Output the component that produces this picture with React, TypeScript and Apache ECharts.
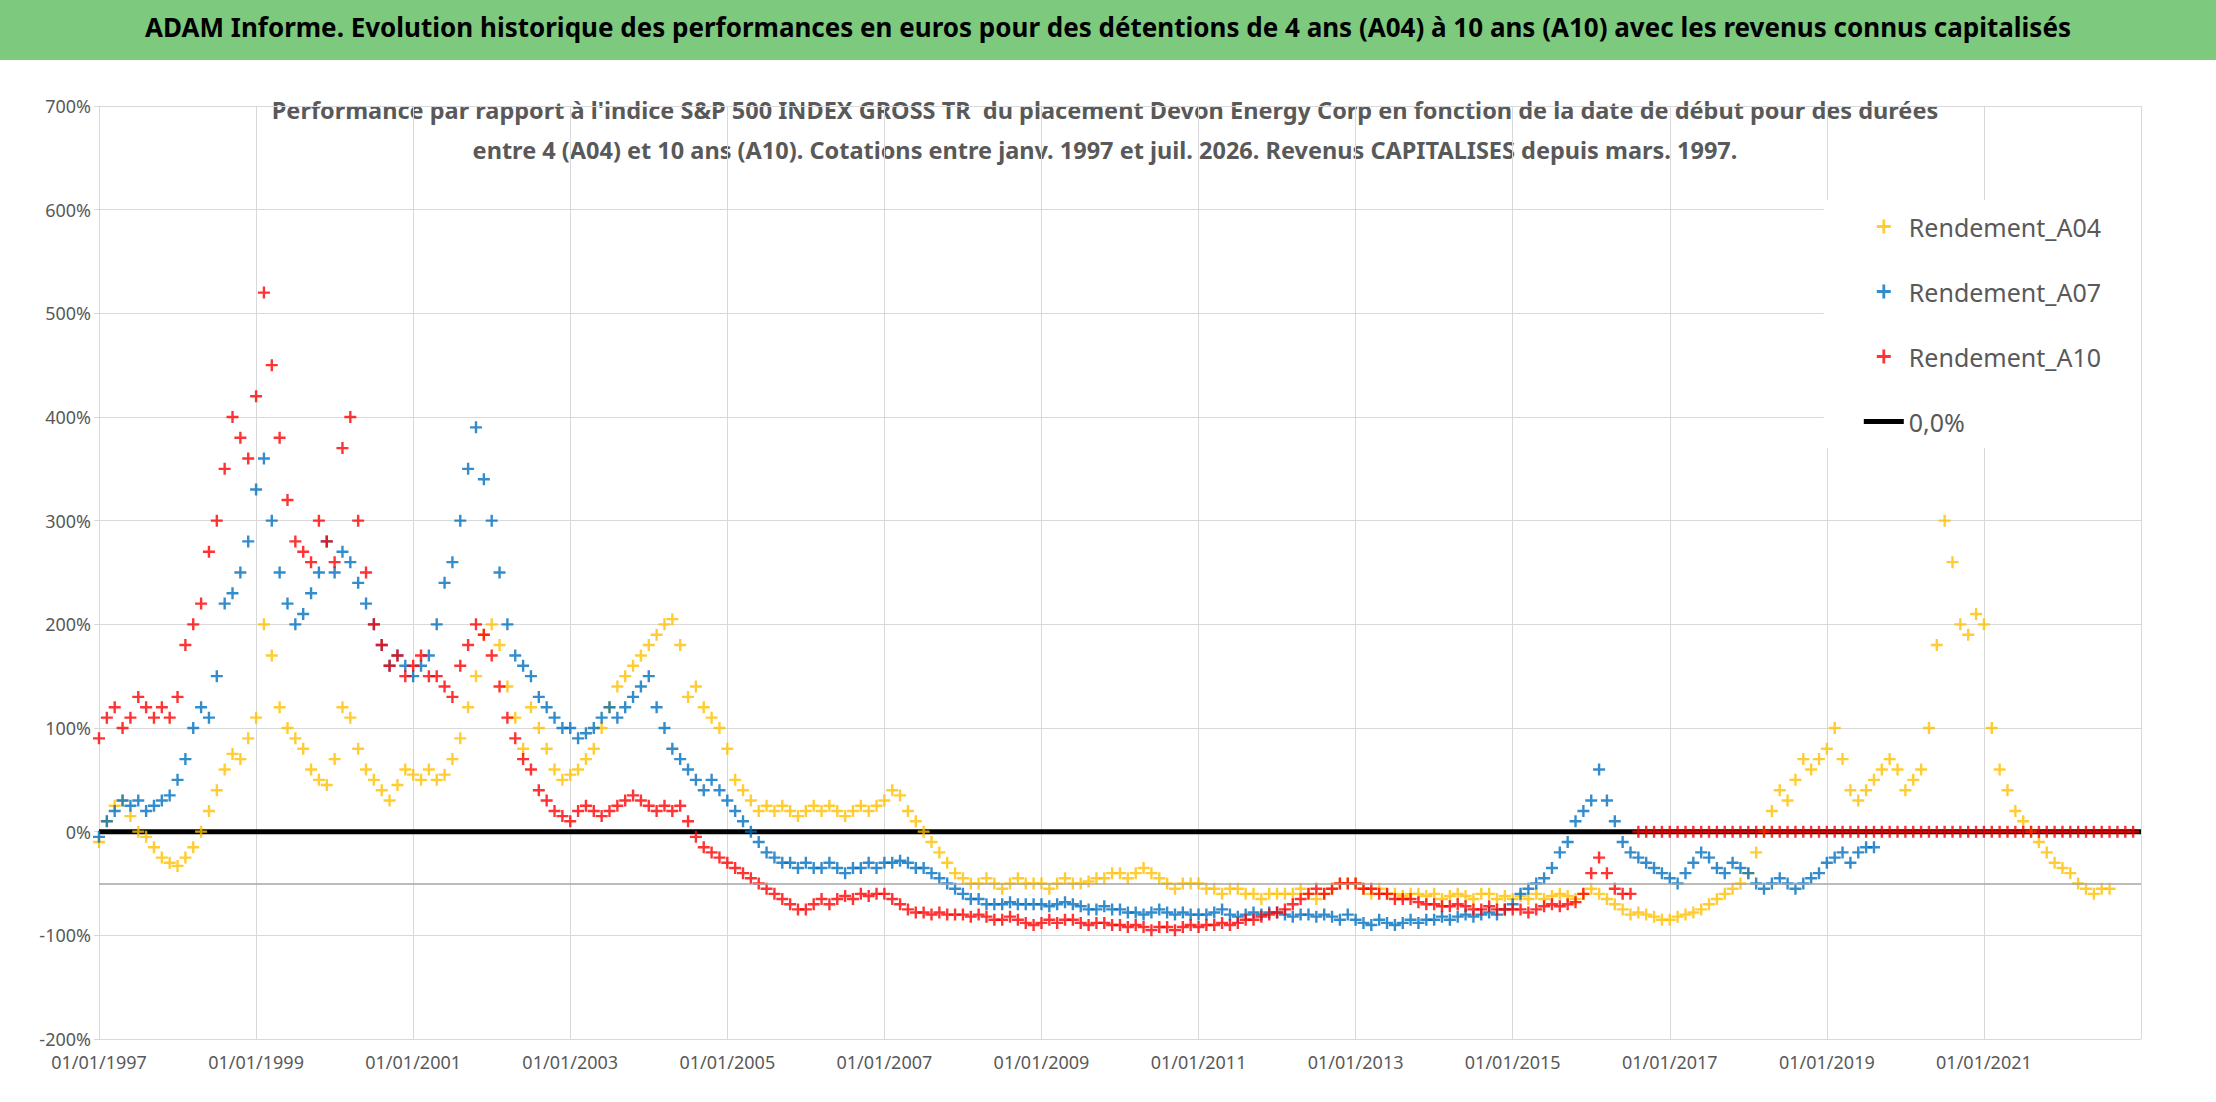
import React, { useEffect, useRef } from 'react';
import * as echarts from 'echarts';

// each row = one year, 10 points per year (step 0.1 year)
const START_YEAR = 1997;
const STEP = 0.1;

const a04Values = [
  -10, 10, 25, 30, 15, 0, -5, -15, -25, -30,
  -33, -25, -15, 0, 20, 40, 60, 75, 70, 90,
  110, 200, 170, 120, 100, 90, 80, 60, 50, 45,
  70, 120, 110, 80, 60, 50, 40, 30, 45, 60,
  55, 50, 60, 50, 55, 70, 90, 120, 150, 190,
  200, 180, 140, 110, 80, 120, 100, 80, 60, 50,
  55, 60, 70, 80, 100, 120, 140, 150, 160, 170,
  180, 190, 200, 205, 180, 130, 140, 120, 110, 100,
  80, 50, 40, 30, 20, 25, 20, 25, 20, 15,
  20, 25, 20, 25, 20, 15, 20, 25, 20, 25,
  30, 40, 35, 20, 10, 0, -10, -20, -30, -40,
  -45, -50, -50, -45, -50, -55, -50, -45, -50, -50,
  -50, -55, -50, -45, -50, -50, -48, -45, -45, -40,
  -40, -45, -40, -35, -40, -45, -50, -55, -50, -50,
  -50, -55, -55, -60, -55, -55, -60, -60, -65, -60,
  -60, -60, -60, -55, -60, -65, -60, -55, -50, -50,
  -50, -55, -60, -55, -60, -60, -62, -60, -60, -62,
  -60, -65, -62, -60, -62, -65, -60, -60, -65, -62,
  -65, -62, -65, -60, -65, -62, -60, -62, -65, -60,
  -55, -60, -65, -70, -75, -80, -78, -80, -82, -85,
  -85, -82, -80, -78, -75, -70, -65, -60, -55, -50,
  -40, -20, 0, 20, 40, 30, 50, 70, 60, 70,
  80, 100, 70, 40, 30, 40, 50, 60, 70, 60,
  40, 50, 60, 100, 180, 300, 260, 200, 190, 210,
  200, 100, 60, 40, 20, 10, 0, -10, -20, -30,
  -35, -40, -50, -55, -60, -55, -55,
];

const a07Values = [
  -5, 10, 20, 30, 25, 30, 20, 25, 30, 35,
  50, 70, 100, 120, 110, 150, 220, 230, 250, 280,
  330, 360, 300, 250, 220, 200, 210, 230, 250, 280,
  250, 270, 260, 240, 220, 200, 180, 160, 170, 160,
  150, 160, 170, 200, 240, 260, 300, 350, 390, 340,
  300, 250, 200, 170, 160, 150, 130, 120, 110, 100,
  100, 90, 95, 100, 110, 120, 110, 120, 130, 140,
  150, 120, 100, 80, 70, 60, 50, 40, 50, 40,
  30, 20, 10, 0, -10, -20, -25, -30, -30, -35,
  -30, -35, -35, -30, -35, -40, -35, -35, -30, -35,
  -30, -30, -28, -30, -35, -35, -40, -45, -50, -55,
  -60, -65, -65, -70, -70, -70, -68, -70, -70, -70,
  -70, -72, -70, -68, -70, -72, -75, -75, -72, -75,
  -75, -78, -78, -80, -78, -75, -78, -80, -78, -80,
  -80, -80, -78, -75, -80, -82, -80, -78, -80, -78,
  -78, -80, -82, -80, -80, -82, -80, -82, -85, -80,
  -85, -88, -90, -85, -88, -90, -88, -85, -88, -85,
  -85, -82, -85, -82, -80, -82, -80, -78, -80, -75,
  -70, -60, -55, -50, -45, -35, -20, -10, 10, 20,
  30, 60, 30, 10, -10, -20, -25, -30, -35, -40,
  -45, -50, -40, -30, -20, -25, -35, -40, -30, -35,
  -40, -50, -55, -50, -45, -50, -55, -50, -45, -40,
  -30, -25, -20, -30, -20, -15, -15,
];

const a10Values = [
  90, 110, 120, 100, 110, 130, 120, 110, 120, 110,
  130, 180, 200, 220, 270, 300, 350, 400, 380, 360,
  420, 520, 450, 380, 320, 280, 270, 260, 300, 280,
  260, 370, 400, 300, 250, 200, 180, 160, 170, 150,
  160, 170, 150, 150, 140, 130, 160, 180, 200, 190,
  170, 140, 110, 90, 70, 60, 40, 30, 20, 15,
  10, 20, 25, 20, 15, 20, 25, 30, 35, 30,
  25, 20, 25, 20, 25, 10, -5, -15, -20, -25,
  -30, -35, -40, -45, -50, -55, -60, -65, -70, -75,
  -75, -70, -65, -70, -65, -62, -65, -60, -62, -60,
  -60, -65, -70, -75, -78, -78, -80, -78, -80, -80,
  -80, -82, -80, -82, -85, -85, -82, -85, -88, -90,
  -88, -85, -88, -85, -85, -88, -90, -88, -88, -90,
  -90, -92, -90, -92, -95, -92, -92, -95, -92, -90,
  -92, -90, -90, -88, -90, -88, -85, -85, -82, -80,
  -78, -75, -70, -65, -60, -55, -60, -55, -50, -50,
  -50, -55, -55, -60, -60, -65, -65, -65, -68, -70,
  -70, -72, -72, -70, -72, -75, -75, -72, -75, -75,
  -75, -75, -78, -75, -72, -70, -72, -70, -68, -60,
  -40, -25, -40, -55, -60, -60, 0, 0, 0, 0,
  0, 0, 0, 0, 0, 0, 0, 0, 0, 0,
  0, 0, 0, 0, 0, 0, 0, 0, 0, 0,
  0, 0, 0, 0, 0, 0, 0, 0, 0, 0,
  0, 0, 0, 0, 0, 0, 0, 0, 0, 0,
  0, 0, 0, 0, 0, 0, 0, 0, 0, 0,
  0, 0, 0, 0, 0, 0, 0, 0, 0, 0,
];

const zeroLine = [[1997, 0], [2023, 0]];

const TITLE =
  "ADAM Informe. Evolution historique des performances en euros pour des détentions de 4 ans (A04) à 10 ans (A10) avec les revenus connus capitalisés";
const SUBTITLE =
  "Performance par rapport à l'indice S&P 500 INDEX GROSS TR  du placement Devon Energy Corp en fonction de la date de début pour des durées\nentre 4 (A04) et 10 ans (A10). Cotations entre janv. 1997 et juil. 2026. Revenus CAPITALISES depuis mars. 1997.";

const PLUS = 'path://M4 0h2v4h4v2H6v4H4V6H0V4h4z';
const FONT = "'Noto Sans', 'DejaVu Sans', sans-serif";

const toPoints = (vals: number[]) =>
  vals.map((v, i) => [+(START_YEAR + i * STEP).toFixed(2), v]);

const scatter = (name: string, color: string, vals: number[]) => ({
  name,
  type: 'scatter',
  symbol: PLUS,
  symbolSize: 12,
  itemStyle: { color },
  data: toPoints(vals),
  z: 3,
});

export default function App() {
  const ref = useRef<HTMLDivElement>(null);

  useEffect(() => {
    document.body.style.margin = '0';
    if (!ref.current) return;
    const chart = echarts.init(ref.current, null, { renderer: 'svg' });
    chart.setOption({
      animation: false,
      backgroundColor: '#fff',
      textStyle: { fontFamily: FONT },
      grid: { left: 99, right: 75, top: 106, bottom: 63 },
      graphic: [
        { type: 'rect', left: 0, top: 0, shape: { width: 2216, height: 60 }, style: { fill: '#7DC97E' } },
        {
          type: 'text', left: 'center', top: 14,
          style: { text: TITLE, font: `bold 26px ${FONT}`, fill: '#000' },
        },
        {
          type: 'text', x: 1105, y: 90,
          style: {
            text: SUBTITLE, font: `bold 23.5px ${FONT}`, fill: '#595959',
            align: 'center', lineHeight: 40,
          },
        },
      ],
      legend: {
        orient: 'vertical', right: 75, top: 200,
        backgroundColor: '#fff', padding: [14, 40, 14, 40],
        itemGap: 40, itemWidth: 40, itemHeight: 14,
        textStyle: { fontSize: 25, color: '#595959', fontFamily: FONT },
        data: [
          { name: 'Rendement_A04', icon: PLUS, itemStyle: { color: '#FFC000' } },
          { name: 'Rendement_A07', icon: PLUS, itemStyle: { color: '#0070C0' } },
          { name: 'Rendement_A10', icon: PLUS, itemStyle: { color: '#FF0000' } },
          { name: '0,0%', icon: 'path://M0 0h40v5H0z', itemStyle: { color: '#000' } },
        ],
      },
      xAxis: {
        type: 'value', min: 1997, max: 2023, interval: 2,
        axisLine: { show: true, lineStyle: { color: '#D9D9D9' } },
        axisTick: { show: false },
        splitLine: { show: true, lineStyle: { color: '#D9D9D9' } },
        axisLabel: {
          fontSize: 18, color: '#595959', margin: 14,
          formatter: (v: number) => (v === 2023 ? '' : `01/01/${v}`),
        },
      },
      yAxis: {
        type: 'value', min: -200, max: 700, interval: 100,
        axisLine: { show: true, lineStyle: { color: '#D9D9D9' } },
        splitLine: { lineStyle: { color: '#D9D9D9' } },
        axisLabel: { fontSize: 18, color: '#595959', formatter: '{value}%' },
      },
      series: [
        scatter('Rendement_A04', '#FFC000', a04Values),
        scatter('Rendement_A07', '#0070C0', a07Values),
        scatter('Rendement_A10', '#FF0000', a10Values),
        {
          name: '0,0%', type: 'line', data: zeroLine, symbol: 'none', z: 2,
          lineStyle: { color: '#000', width: 5 }, itemStyle: { color: '#000' },
          markLine: {
            silent: true, symbol: 'none', label: { show: false },
            lineStyle: { color: '#A6A6A6', width: 1.5, type: 'solid' },
            data: [{ yAxis: -50 }],
          },
        },
      ],
    });
    return () => chart.dispose();
  }, []);

  return <div ref={ref} style={{ width: 2216, height: 1102 }} />;
}
